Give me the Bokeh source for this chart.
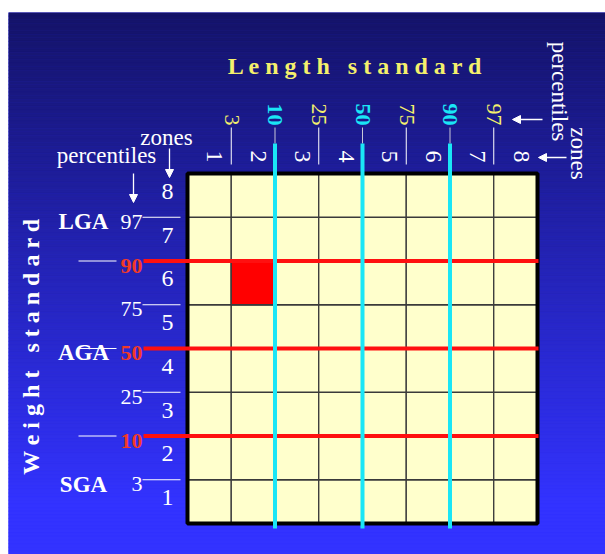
import numpy as np
from bokeh.plotting import figure
from bokeh.models import Range1d, Arrow, NormalHead
from bokeh.core.properties import value
from bokeh.embed import file_html
from bokeh.resources import INLINE

# ---------------- data ----------------
zones = ["1", "2", "3", "4", "5", "6", "7", "8"]
percentiles = ["3", "10", "25", "50", "75", "90", "97"]
major_percentiles = ["10", "50", "90"]
group_names = ["SGA", "AGA", "LGA"]
group_percentiles = ["3", "50", "97"]
marked_length_zone = "2"
marked_weight_zone = "6"
length_title = "Length standard"
weight_title = "Weight standard"
zones_word = "zones"
percentiles_word = "percentiles"

# ---------------- layout helpers (picture pixels -> grid units) ----------------
FIG_W, FIG_H = 605, 554
LEFT_GAP, TOP_GAP = 8, 12
GX0, GY0, CELL = 187.0, 523.0, 43.75
K = 0.33  # baseline correction (fraction of font size)
PCT_SIZE = 22


def X(px):
    return (px - GX0) / CELL


def Y(py):
    return (GY0 - py) / CELL


def d(px):
    return px / CELL


def spaced(s):
    return " \u00a0 ".join(" ".join(w) for w in s.split())


SERIF = value("Liberation Serif")
WHITE = "#ffffff"
YELLOW = "#f4f06c"
CYAN = "#1ae6f6"
RED = "#ff1010"
RED_TXT = "#f23a28"
CELL_FILL = "#ffffcc"
GRID_LINE = "#3a3a3a"

p = figure(width=FIG_W, height=FIG_H,
           x_range=Range1d(X(LEFT_GAP), X(FIG_W)),
           y_range=Range1d(Y(FIG_H), Y(TOP_GAP)),
           x_axis_type=None, y_axis_type=None,
           output_backend="svg", toolbar_location=None,
           min_border_left=LEFT_GAP, min_border_right=0, min_border_bottom=0,
           min_border_top=TOP_GAP, border_fill_color="white",
           outline_line_color=None, background_fill_color="#3333ff")

# ---------------- background gradient ----------------
n_bands = 150
edges = np.linspace(TOP_GAP, FIG_H, n_bands + 1)
top_rgb = np.array([20, 19, 104])
bot_rgb = np.array([51, 51, 255])
cols = []
for a, b in zip(edges[:-1], edges[1:]):
    t = min(1.0, max(0.0, ((a + b) / 2 - 12) / (505 - 12)))
    c = top_rgb + (bot_rgb - top_rgb) * t
    cols.append("#%02x%02x%02x" % tuple(int(round(v)) for v in c))
p.quad(left=X(LEFT_GAP), right=X(FIG_W),
       top=[Y(a) for a in edges[:-1]], bottom=[Y(b) for b in edges[1:]],
       fill_color=cols, line_color=cols, line_width=0.6)

# ---------------- grid cells ----------------
n = len(zones)
cx, cy = np.meshgrid(np.arange(n), np.arange(n))
cx = cx.ravel()
cy = cy.ravel()
p.quad(left=cx, right=cx + 1, bottom=cy, top=cy + 1,
       fill_color=CELL_FILL, line_color=GRID_LINE, line_width=1.3)

li = zones.index(marked_length_zone)
wi = zones.index(marked_weight_zone)
p.quad(left=[li], right=[li + 1], bottom=[wi], top=[wi + 1],
       fill_color="#ff0000", line_color=GRID_LINE, line_width=1.3)

p.quad(left=[0], right=[n], bottom=[0], top=[n], fill_color=None,
       line_color="black", line_width=4)

pos = np.arange(1, len(percentiles) + 1)
is_major = np.array([q in major_percentiles for q in percentiles])
pos_minor = pos[~is_major]
pos_major = pos[is_major]
lab_minor = [q for q in percentiles if q not in major_percentiles]
lab_major = [q for q in percentiles if q in major_percentiles]

# ---------------- weight (left) side ----------------
p.segment(x0=X(142), x1=X(180), y0=pos_minor, y1=pos_minor,
          line_color=WHITE, line_width=1)
p.segment(x0=X(78), x1=X(116), y0=pos_major, y1=pos_major,
          line_color=WHITE, line_width=1)
p.segment(x0=X(143), x1=X(538), y0=pos_major, y1=pos_major,
          line_color=RED, line_width=4)

p.text(x=X(142), y=pos_minor - d(12 - K * PCT_SIZE), text=lab_minor,
       text_font=SERIF, text_font_size=value(f"{PCT_SIZE}px"),
       text_color=WHITE, text_align="right", text_baseline="alphabetic")
p.text(x=X(142), y=pos_major - d(12 - K * PCT_SIZE), text=lab_major,
       text_font=SERIF, text_font_size=value(f"{PCT_SIZE}px"),
       text_font_style="bold", text_color=RED_TXT,
       text_align="right", text_baseline="alphabetic")

zc = np.arange(n) + 0.5
p.text(x=X(167), y=zc - d(4 - K * 24), text=zones, text_font=SERIF,
       text_font_size=value("24px"), text_color=WHITE,
       text_align="center", text_baseline="alphabetic")

gpos = np.array([percentiles.index(g) + 1 for g in group_percentiles])
p.text(x=X(83), y=gpos - d(12 - K * 23), text=group_names, text_font=SERIF,
       text_font_size=value("23px"), text_font_style="bold",
       text_color=WHITE, text_align="center", text_baseline="alphabetic")

p.text(x=[X(38 - K * 24)], y=[Y(346)], text=[spaced(weight_title)],
       angle=np.pi / 2, text_font=SERIF, text_font_size=value("24px"),
       text_font_style="bold", text_color=WHITE,
       text_align="center", text_baseline="alphabetic")

# ---------------- length (top) side ----------------
p.segment(x0=pos_minor, x1=pos_minor, y0=Y(127), y1=Y(164),
          line_color=WHITE, line_width=1)
p.segment(x0=pos_major, x1=pos_major, y0=Y(127), y1=Y(143),
          line_color="#c8c8d8", line_width=1)

p.text(x=pos_minor - d(7 - K * PCT_SIZE), y=Y(125), text=lab_minor,
       angle=-np.pi / 2, text_font=SERIF,
       text_font_size=value(f"{PCT_SIZE}px"), text_color=YELLOW,
       text_align="right", text_baseline="alphabetic")
p.text(x=pos_major - d(7 - K * PCT_SIZE), y=Y(125), text=lab_major,
       angle=-np.pi / 2, text_font=SERIF,
       text_font_size=value(f"{PCT_SIZE}px"), text_font_style="bold",
       text_color=CYAN, text_align="right", text_baseline="alphabetic")

p.text(x=zc - d(2.5 - K * 24), y=Y(156), text=zones, angle=-np.pi / 2,
       text_font=SERIF, text_font_size=value("24px"), text_color=WHITE,
       text_align="center", text_baseline="alphabetic")

p.text(x=[X(355)], y=[Y(73 - K * 24)], text=[spaced(length_title)],
       text_font=SERIF, text_font_size=value("24px"), text_font_style="bold",
       text_color=YELLOW, text_align="center", text_baseline="alphabetic")

# cyan lines drawn over red lines and border
p.segment(x0=pos_major, x1=pos_major, y0=Y(143), y1=Y(528),
          line_color=CYAN, line_width=4)

# ---------------- legend words and arrows ----------------
p.text(x=[X(166)], y=[Y(145 - K * 23)], text=[zones_word], text_font=SERIF,
       text_font_size=value("23px"), text_color=WHITE,
       text_align="center", text_baseline="alphabetic")
p.text(x=[X(106)], y=[Y(163 - K * 23)], text=[percentiles_word],
       text_font=SERIF, text_font_size=value("23px"), text_color=WHITE,
       text_align="center", text_baseline="alphabetic")
p.text(x=[X(551 + K * 23)], y=[Y(91)], text=[percentiles_word],
       angle=-np.pi / 2, text_font=SERIF, text_font_size=value("23px"),
       text_color=WHITE, text_align="center", text_baseline="alphabetic")
p.text(x=[X(570 + K * 23)], y=[Y(153)], text=[zones_word], angle=-np.pi / 2,
       text_font=SERIF, text_font_size=value("23px"), text_color=WHITE,
       text_align="center", text_baseline="alphabetic")

arrows = [
    (169, 148, 169, 177),
    (133, 173, 133, 202),
    (542, 119, 512, 119),
    (566, 157, 538, 157),
]
for xs, ys, xe, ye in arrows:
    p.add_layout(Arrow(end=NormalHead(size=8, fill_color=WHITE,
                                      line_color=WHITE, line_width=1),
                       x_start=X(xs), y_start=Y(ys), x_end=X(xe), y_end=Y(ye),
                       line_color=WHITE, line_width=1.3))

open("out.html", "w").write(file_html(p, INLINE))
